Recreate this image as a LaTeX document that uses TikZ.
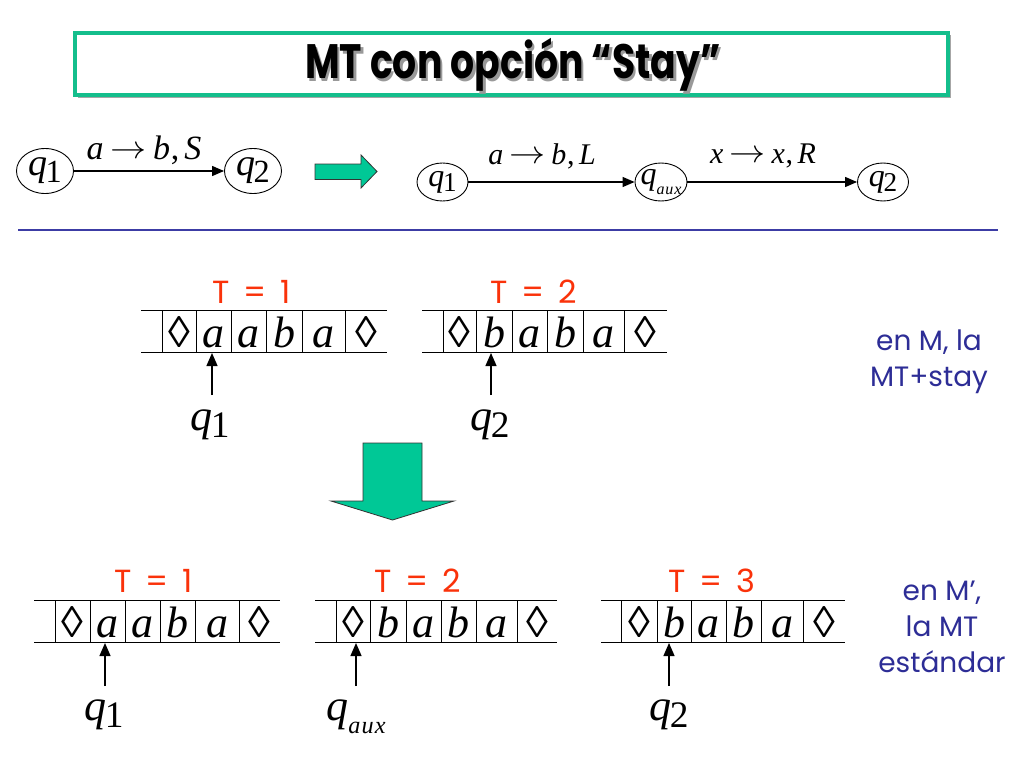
\documentclass[tikz,border=0pt]{standalone}
\usepackage{fontspec}
\setmainfont{Liberation Serif}
\newfontfamily\comic{Poppins}
\usetikzlibrary{shapes.geometric,arrows.meta}
\definecolor{tgreen}{RGB}{0,200,150}
\definecolor{bgreen}{RGB}{20,190,140}
\definecolor{tred}{RGB}{250,50,10}
\definecolor{tblue}{RGB}{45,45,150}
\definecolor{lblue}{RGB}{60,60,165}
\newcommand\Qq[1]{{\itshape q}\kern-0.04em\raisebox{-0.17em}{\scalebox{0.85}{#1}}}
\newcommand\Qaux[1][0.55]{{\itshape q}\raisebox{-0.3em}{\scalebox{#1}{\itshape a\kern0.05em u\kern0.05em x}}}
\newcommand\Tr[3]{{\itshape #1}\kern0.2em\raisebox{0.02em}{\scalebox{1.45}[1.3]{$\rightarrow$}}\kern0.2em{\itshape #2}\kern0.02em,\kern0.15em{\itshape #3}}
\begin{document}
\begin{tikzpicture}[x=1pt,y=-1pt,
  st/.style={draw, ellipse, line width=0.9pt, inner sep=0pt},
  stbig/.style={st, minimum width=57pt, minimum height=45pt},
  stsmall/.style={st, minimum width=51pt, minimum height=38pt},
  qbig/.style={font=\fontsize{38}{40}\selectfont, inner sep=0pt},
  qsmall/.style={font=\fontsize{32}{34}\selectfont, inner sep=0pt},
  trans/.style={line width=1.3pt, -{Triangle[length=12pt,width=10pt]}},
  trlbl/.style={inner sep=0pt},
  tapeline/.style={line width=0.9pt},
  cell/.style={font=\fontsize{44}{46}\selectfont, inner sep=0pt, anchor=base},
  head/.style={line width=1.3pt, -{Triangle[length=13pt,width=11pt]}},
  qlab/.style={font=\fontsize{44}{46}\selectfont, inner sep=0pt, anchor=base},
  tlab/.style={font=\comic\fontsize{32}{34}\selectfont, text=tred, inner sep=0pt},
  note/.style={font=\comic\fontsize{28}{36}\selectfont, text=tblue, align=center, inner sep=0pt},
  bigarrow/.style={fill=tgreen, draw=black!80, line width=0.8pt, line join=miter},
  titlefont/.style={font=\comic\bfseries\fontsize{42}{46}\selectfont, inner sep=0pt}
]
\useasboundingbox (0,0) rectangle (1024,768);
\fill[white] (0,0) rectangle (1024,768);

% ---------------- title ----------------
\fill[black!35] (77.5,35.5) rectangle (950.5,97.5);
\draw[bgreen, line width=4pt, fill=white] (75,33) rectangle (948,95);
\node[titlefont, text=black!40] at (515.5,67.5) {\scalebox{0.9}[1.15]{MT con opción “Stay”}};
\node[titlefont, text=black] (title) at (513,65) {\scalebox{0.9}[1.15]{MT con opción “Stay”}};

% ---------------- top-left machine ----------------
\node[stbig, label={[qbig]center:\Qq{1}}] (A1) at (45,171) {};
\node[stbig, label={[qbig]center:\Qq{2}}] (A2) at (253,171) {};
\draw[trans] (A1) -- (A2);
\node[trlbl, font=\fontsize{34}{36}\selectfont] (LA) at (144,150) {\Tr{a}{b}{S}};

% green right arrow
\draw[bigarrow] (315,164) -- (361,164) -- (361,155) -- (377,171.5) -- (361,188) -- (361,179.5) -- (315,179.5) -- cycle;

% ---------------- top-right machine ----------------
\node[stsmall, label={[qsmall]center:\Qq{1}}] (B1) at (442.5,182) {};
\node[stsmall, minimum width=52pt, label={[qsmall]center:\Qaux[0.5]}] (B2) at (661,182) {};
\node[stsmall, label={[qsmall]center:\Qq{2}}] (B3) at (883,182) {};
\draw[trans] (B1) -- (B2);
\draw[trans] (B2) -- (B3);
\node[trlbl, font=\fontsize{30}{32}\selectfont] (LB1) at (542,156) {\Tr{a}{b}{L}};
\node[trlbl, font=\fontsize{30}{32}\selectfont] (LB2) at (763,156) {\Tr{x}{x}{R}};

% separator line
\draw[lblue, line width=1.8pt] (18,230) -- (998,230);

% ---------------- middle: M with stay ----------------
\node[tlab] (T11) at (252,292) {T\, =\, 1};
\draw[tapeline] (141,310) -- (387,310) (141,352) -- (387,352);
\foreach \x in {162,196,231,266,302,345} \draw[tapeline] (\x,310) -- (\x,352);
\foreach \n/\c/\s in {1/179/◊, 2/213.5/a, 3/248.5/a, 4/284/b, 5/323.5/a, 6/366/◊}
  \node[cell] (m1c\n) at (\c,347) {\itshape \s};
\coordinate (m1t) at (212,395);
\coordinate (m1h) at (212,353);
\draw[head] (m1t) -- (m1h);
\node[qlab] (m1q) at (210,430) {\Qq{1}};

\node[tlab] (T12) at (534,292) {T\, =\, 2};
\draw[tapeline] (422,310) -- (667,310) (422,352) -- (667,352);
\foreach \x in {443,476,512,547,583,624} \draw[tapeline] (\x,310) -- (\x,352);
\foreach \n/\c/\s in {1/459.5/◊, 2/494/b, 3/529.5/a, 4/565/b, 5/603.5/a, 6/645.5/◊}
  \node[cell] (m2c\n) at (\c,347) {\itshape \s};
\coordinate (m2t) at (491,395);
\coordinate (m2h) at (491,353);
\draw[head] (m2t) -- (m2h);
\node[qlab] (m2q) at (490,430) {\Qq{2}};

\node[note] (n1) at (929,362) {en M, la\\MT+stay};

% green down arrow
\draw[bigarrow] (363,443) -- (422,443) -- (422,501) -- (454,501) -- (392.5,520) -- (331,501) -- (363,501) -- cycle;

% ---------------- bottom: M' standard ----------------
\node[tlab] (T21) at (154,581) {T\, =\, 1};
\draw[tapeline] (34,600) -- (280,600) (34,642) -- (280,642);
\foreach \x in {55,90,125,160,195,239} \draw[tapeline] (\x,600) -- (\x,642);
\foreach \n/\c/\s in {1/72.5/◊, 2/107.5/a, 3/142.5/a, 4/177.5/b, 5/217/a, 6/259.5/◊}
  \node[cell] (b1c\n) at (\c,637) {\itshape \s};
\coordinate (b1t) at (105,686);
\coordinate (b1h) at (105,643);
\draw[head] (b1t) -- (b1h);
\node[qlab] (b1q) at (104,720) {\Qq{1}};

\node[tlab] (T22) at (418,581) {T\, =\, 2};
\draw[tapeline] (315,600) -- (557,600) (315,642) -- (557,642);
\foreach \x in {336,370,406,441,476,517} \draw[tapeline] (\x,600) -- (\x,642);
\foreach \n/\c/\s in {1/353/◊, 2/388/b, 3/423.5/a, 4/458.5/b, 5/496.5/a, 6/537/◊}
  \node[cell] (b2c\n) at (\c,637) {\itshape \s};
\coordinate (b2t) at (356,686);
\coordinate (b2h) at (356,643);
\draw[head] (b2t) -- (b2h);
\node[qlab] (b2q) at (356,720) {\Qaux};

\node[tlab] (T23) at (712,581) {T\, =\, 3};
\draw[tapeline] (601,600) -- (845,600) (601,642) -- (845,642);
\foreach \x in {621,657,691,726,761,803} \draw[tapeline] (\x,600) -- (\x,642);
\foreach \n/\c/\s in {1/639/◊, 2/674/b, 3/708.5/a, 4/743.5/b, 5/782/a, 6/824/◊}
  \node[cell] (b3c\n) at (\c,637) {\itshape \s};
\coordinate (b3t) at (669,686);
\coordinate (b3h) at (669,643);
\draw[head] (b3t) -- (b3h);
\node[qlab] (b3q) at (669,720) {\Qq{2}};

\node[note] (n2) at (942,627) {en M’,\\la MT\\estándar};
\end{tikzpicture}
\end{document}
